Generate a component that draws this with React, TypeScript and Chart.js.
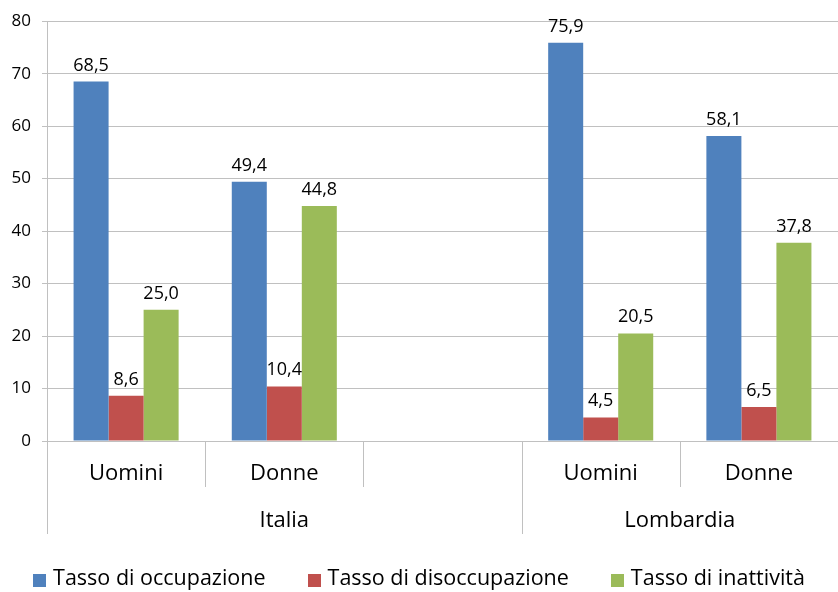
import React, { useEffect, useRef } from 'react';
import { Chart, registerables } from 'chart.js';

Chart.register(...registerables);

const categories = ['Uomini', 'Donne', '', 'Uomini', 'Donne'];
const groupLabels = ['Italia', 'Lombardia'];
const groupSpans = [3, 2];
const occupazione = [68.5, 49.4, null, 75.9, 58.1];
const disoccupazione = [8.6, 10.4, null, 4.5, 6.5];
const inattivita = [25.0, 44.8, null, 20.5, 37.8];
const seriesNames = ['Tasso di occupazione', 'Tasso di disoccupazione', 'Tasso di inattività'];
const seriesColors = ['#4F81BD', '#C0504D', '#9BBB59'];
const yMin = 0;
const yMax = 80;
const yStep = 10;

const FONT = '"Open Sans", sans-serif';
const LINE = '#C0C0C0';

const overlayPlugin = {
  id: 'overlay',
  afterDraw(chart: any) {
    const ctx = chart.ctx;
    const xs = chart.scales.x;
    const area = chart.chartArea;
    const n = categories.length;
    const slot = (xs.right - xs.left) / n;
    ctx.save();

    // value labels
    ctx.font = `18px ${FONT}`;
    ctx.fillStyle = '#000';
    ctx.textAlign = 'center';
    ctx.textBaseline = 'alphabetic';
    chart.data.datasets.forEach((ds: any, di: number) => {
      const meta = chart.getDatasetMeta(di);
      meta.data.forEach((bar: any, i: number) => {
        const v = ds.data[i];
        if (v == null) return;
        ctx.fillText(v.toFixed(1).replace('.', ','), bar.x, bar.y - 11);
      });
    });

    // separators
    const groupStarts: number[] = [];
    let acc = 0;
    groupSpans.forEach((s) => { groupStarts.push(acc); acc += s; });
    ctx.strokeStyle = LINE;
    ctx.lineWidth = 1;
    for (let b = 0; b < n; b++) {
      const px = Math.round(xs.getPixelForValue(b) - slot / 2) + 0.5;
      const isLong = groupStarts.includes(b);
      ctx.beginPath();
      ctx.moveTo(px, area.bottom);
      ctx.lineTo(px, area.bottom + (isLong ? 93 : 46));
      ctx.stroke();
    }

    // category labels
    ctx.font = `22px ${FONT}`;
    ctx.textBaseline = 'middle';
    ctx.fillStyle = '#000';
    categories.forEach((c, i) => {
      if (!c) return;
      ctx.fillText(c, xs.getPixelForValue(i), area.bottom + 33);
    });

    // group labels
    groupLabels.forEach((g, gi) => {
      const s = groupStarts[gi];
      const e = s + groupSpans[gi] - 1;
      const cx = (xs.getPixelForValue(s) + xs.getPixelForValue(e)) / 2;
      ctx.fillText(g, cx, area.bottom + 80);
    });

    // legend
    ctx.font = `21.5px ${FONT}`;
    const box = 13;
    const boxGap = 7;
    const itemGap = 42;
    const widths = seriesNames.map((s) => ctx.measureText(s).width);
    const total = widths.reduce((a, w) => a + box + boxGap + w, 0) + itemGap * (seriesNames.length - 1);
    let lx = (chart.width - total) / 2;
    const ly = 580;
    seriesNames.forEach((s, i) => {
      ctx.fillStyle = seriesColors[i];
      ctx.fillRect(Math.round(lx), Math.round(ly - box / 2), box, box);
      ctx.fillStyle = '#000';
      ctx.textAlign = 'left';
      ctx.fillText(s, lx + box + boxGap, ly - 1);
      lx += box + boxGap + widths[i] + itemGap;
    });

    ctx.restore();
  },
};

export default function App() {
  const ref = useRef<HTMLCanvasElement | null>(null);

  useEffect(() => {
    document.body.style.margin = '0';
    if (!ref.current) return;
    Chart.defaults.font.family = FONT;
    const series = [occupazione, disoccupazione, inattivita];
    const chart = new Chart(ref.current, {
      type: 'bar',
      data: {
        labels: categories,
        datasets: series.map((d, i) => ({
          label: seriesNames[i],
          data: d,
          backgroundColor: seriesColors[i],
          borderWidth: 0,
          categoryPercentage: 0.664,
          barPercentage: 1.0,
        })),
      },
      options: {
        animation: false,
        responsive: true,
        maintainAspectRatio: false,
        layout: { padding: { top: 21, right: 0, left: 0, bottom: 0 } },
        plugins: {
          legend: { display: false },
          tooltip: { enabled: false },
        },
        scales: {
          x: {
            ticks: { display: false },
            grid: { display: false },
            border: { display: false },
            afterFit: (scale: any) => { scale.height = 151; },
          },
          y: {
            min: yMin,
            max: yMax,
            ticks: {
              stepSize: yStep,
              color: '#000',
              font: { size: 17, family: FONT },
              padding: 11,
            },
            grid: { color: LINE, tickLength: 5, lineWidth: 1 },
            border: { display: true, color: LINE },
            afterFit: (scale: any) => { scale.width = 47; },
          },
        },
      },
      plugins: [overlayPlugin],
    });
    return () => chart.destroy();
  }, []);

  return (
    <div style={{ width: 838, height: 592, position: 'relative' }}>
      <canvas ref={ref} />
    </div>
  );
}
